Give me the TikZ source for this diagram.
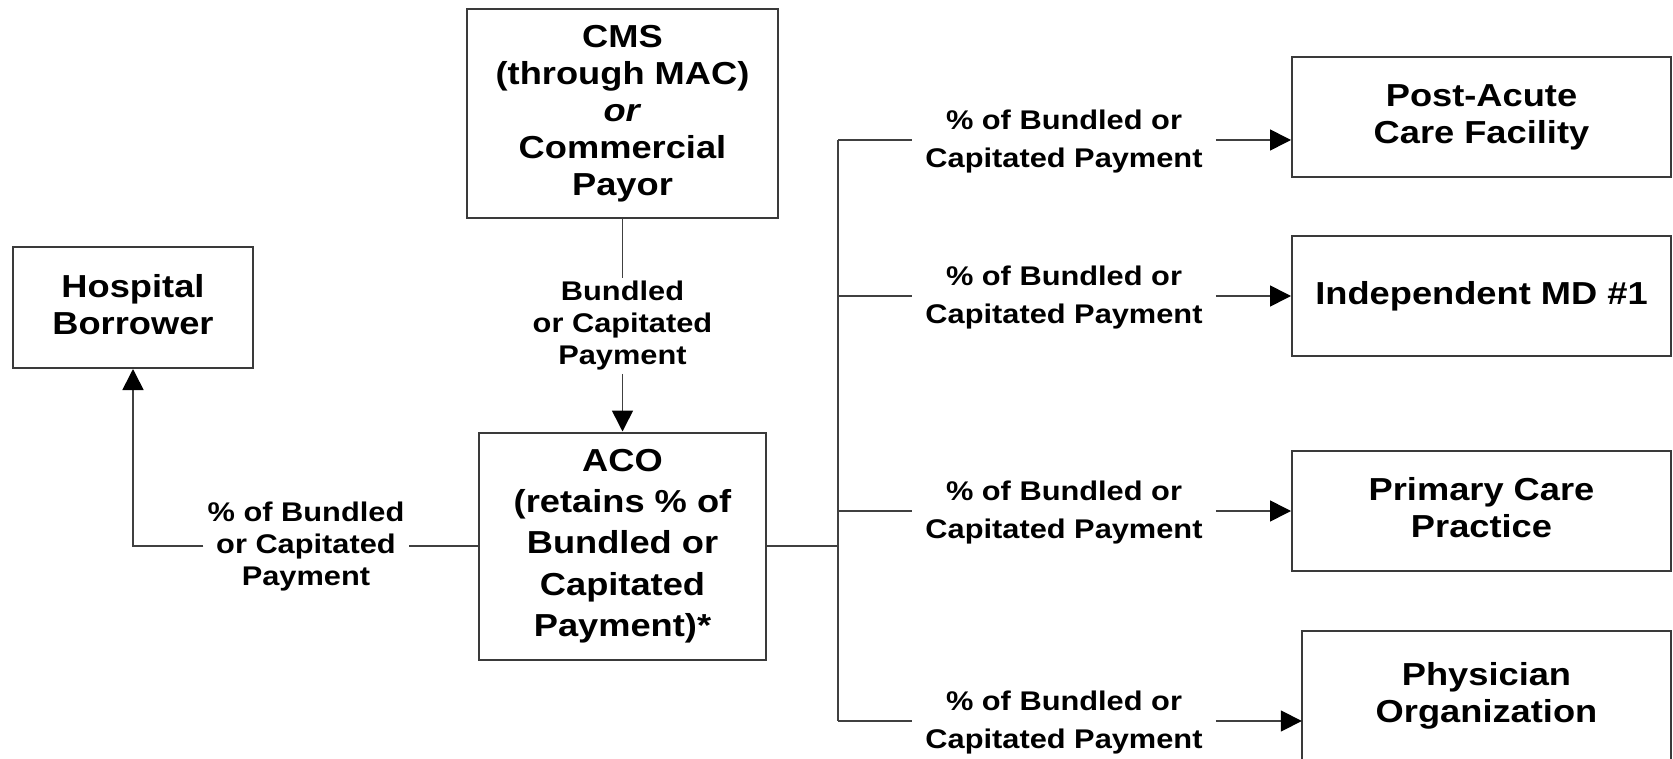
\documentclass[tikz,border=0pt]{standalone}
\usepackage{fontspec}
\setmainfont[FakeStretch=1.14]{Liberation Sans}
\usetikzlibrary{arrows.meta}
\definecolor{boxc}{HTML}{3A3A3A}
\definecolor{linec}{HTML}{404040}
\newcommand\boxfont{\fontsize{31.8}{37}\selectfont\bfseries}
\newcommand\acofont{\fontsize{31.8}{41.3}\selectfont\bfseries}
\newcommand\lblfont{\fontsize{27}{38}\selectfont\bfseries}
\newcommand\lblfontb{\fontsize{27}{32}\selectfont\bfseries}
\begin{document}
\begin{tikzpicture}[x=1pt,y=-1pt,
  box/.style={draw=boxc, line width=2pt, align=center, inner sep=0pt, font=\boxfont},
  lbl/.style={align=center, inner xsep=13pt, inner ysep=2pt, font=\lblfont},
  conn/.style={draw=linec, line width=1.6pt},
  arr/.style={conn, -{Triangle[length=21pt,width=21pt,black]}}]
\useasboundingbox[fill=white] (0,0) rectangle (1673,759);

% boxes
\node[box, minimum width=311pt, minimum height=209pt] (cms) at (622.5,113.5)
  {CMS\\(through MAC)\\\textit{or}\\Commercial\\Payor};
\node[box, minimum width=240pt, minimum height=121pt, text depth=6pt] (hosp) at (133,307.5)
  {Hospital\\Borrower};
\node[box, font=\acofont, minimum width=287pt, minimum height=227pt] (aco) at (622.5,546)
  {ACO\\(retains \% of\\Bundled or\\Capitated\\Payment)*};
\node[box, minimum width=379pt, minimum height=120pt] (post) at (1481.5,117)
  {Post-Acute\\Care Facility};
\node[box, minimum width=379pt, minimum height=120pt] (indep) at (1481.5,296)
  {Independent MD \#1};
\node[box, minimum width=379pt, minimum height=120pt, text depth=8pt] (prim) at (1481.5,511)
  {Primary Care\\Practice};
\node[align=center, inner sep=0pt, font=\boxfont, minimum width=369pt, minimum height=130pt] (phys) at (1486.5,696)
  {Physician\\Organization};
\draw[boxc, line width=2pt] ([yshift=-1pt]phys.north west) -- ++(0,160)
  ([xshift=-1pt]phys.north west) -- ([xshift=1pt]phys.north east)
  ([yshift=-1pt]phys.north east) -- ++(0,160);

% CMS -> ACO
\node[lbl, font=\lblfontb, inner xsep=0pt, inner ysep=3pt] (lblC) at (622.5,326)
  {Bundled\\or Capitated\\Payment};
\draw[conn] (cms.south) -- (lblC.north);
\draw[arr] (lblC.south) -- (aco.north);

% ACO -> Hospital
\node[lbl, font=\lblfontb, inner xsep=4pt] (lblL) at (306,547)
  {\% of Bundled\\or Capitated\\Payment};
\draw[conn] (aco.west) -- (lblL.east |- aco.west);
\draw[arr] (lblL.west |- aco.west) -| (hosp.south);

% ACO -> right branches
\coordinate (t1) at (838,140);
\coordinate (t2) at (838,296);
\coordinate (t3) at (838,511);
\coordinate (t4) at (838,721);
\draw[conn] (aco.east) -- (aco.east -| t1);
\draw[conn] (t1) -- (t4);

\node[lbl] (l1) at (1064,142) {\% of Bundled or\\Capitated Payment};
\node[lbl] (l2) at (1064,298) {\% of Bundled or\\Capitated Payment};
\node[lbl] (l3) at (1064,513) {\% of Bundled or\\Capitated Payment};
\node[lbl] (l4) at (1064,723) {\% of Bundled or\\Capitated Payment};

\draw[conn] (t1) -- (l1.west |- t1);
\draw[arr] (l1.east |- t1) -- (post.west |- t1);
\draw[conn] (t2) -- (l2.west |- t2);
\draw[arr] (l2.east |- t2) -- (indep.west |- t2);
\draw[conn] (t3) -- (l3.west |- t3);
\draw[arr] (l3.east |- t3) -- (prim.west |- t3);
\draw[conn] (t4) -- (l4.west |- t4);
\draw[arr] (l4.east |- t4) -- (phys.west |- t4);
\end{tikzpicture}
\end{document}
